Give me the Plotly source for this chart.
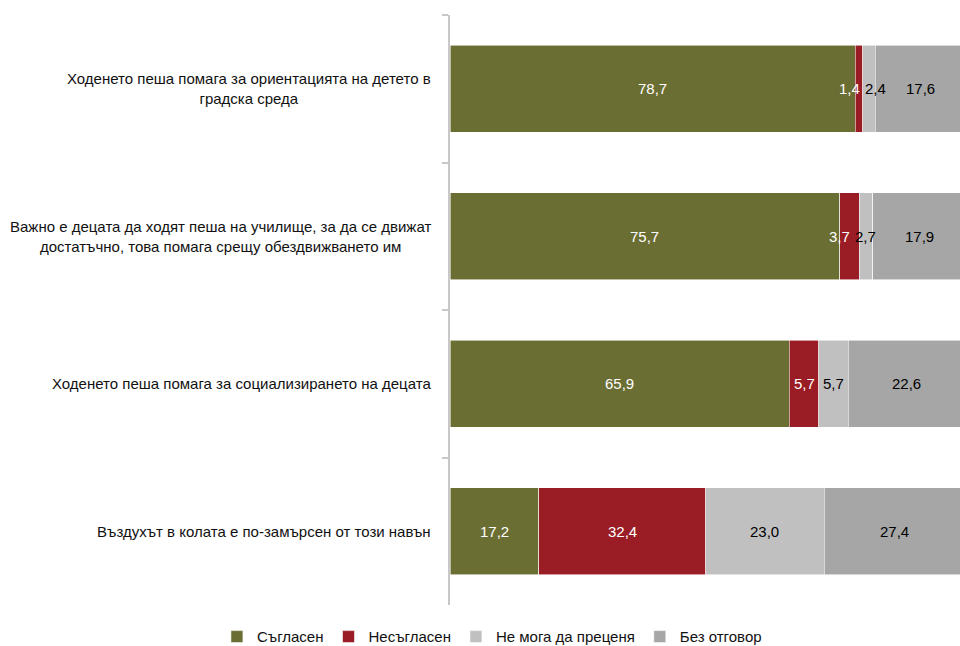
import plotly.graph_objects as go

# data, top row first
categories = [
    'Ходенето пеша помага за ориентацията на детето в<br>градска среда',
    'Важно е децата да ходят пеша на училище, за да се движат<br>достатъчно, това помага срещу обездвижването им',
    'Ходенето пеша помага за социализирането на децата',
    'Въздухът в колата е по-замърсен от този навън',
]
series_names = ['Съгласен', 'Несъгласен', 'Не мога да преценя', 'Без отговор']
agree = [78.7, 75.7, 65.9, 17.2]
disagree = [1.4, 3.7, 5.7, 32.4]
cannot_say = [2.4, 2.7, 5.7, 23.0]
no_answer = [17.6, 17.9, 22.6, 27.4]

colors = ['#6B6E33', '#9A1D26', '#C0C0C0', '#A6A6A6']
label_colors = ['white', 'white', 'black', 'black']
# pixel nudges for labels that overlap on thin segments
label_shift = {(0, 1): -10, (0, 2): 7, (1, 1): -10}

FONT = 'Liberation Sans, Arial, sans-serif'

fig = go.Figure()
values = [agree, disagree, cannot_say, no_answer]
for name, vals, color in zip(series_names, values, colors):
    fig.add_trace(go.Bar(
        y=categories, x=vals, name=name, orientation='h',
        marker=dict(color=color, line=dict(color='rgba(255,255,255,0.7)', width=0.8)),
        width=0.59,
    ))

annotations = []
for row, cat in enumerate(categories):
    left = 0
    for s, vals in enumerate(values):
        v = vals[row]
        annotations.append(dict(
            x=left + v / 2, y=cat, xref='x', yref='y',
            text=f'{v:.1f}'.replace('.', ','), showarrow=False,
            xshift=label_shift.get((row, s), 0),
            font=dict(family=FONT, size=15, color=label_colors[s]),
        ))
        left += v
    annotations.append(dict(
        x=0, y=cat, xref='paper', yref='y', xanchor='right', align='center',
        xshift=-17, text=cat, showarrow=False,
        font=dict(family=FONT, size=15, color='#111111'),
    ))

fig.update_layout(
    barmode='stack',
    width=960, height=646,
    margin=dict(l=450, r=0, t=15, b=41, autoexpand=False),
    plot_bgcolor='white', paper_bgcolor='white',
    font=dict(family=FONT, size=15, color='#111111'),
    annotations=annotations,
    showlegend=True,
    legend=dict(orientation='h', x=-0.457, y=-0.054, xanchor='left', yanchor='middle',
                font=dict(size=15), itemwidth=30, traceorder='normal'),
    xaxis=dict(range=[0, 99], showticklabels=False, showgrid=False, zeroline=False,
               showline=False, fixedrange=True),
    yaxis=dict(autorange='reversed', showticklabels=False, showgrid=False,
               showline=True, linecolor='#C8C8C8', linewidth=1.5,
               ticks='outside', tickson='boundaries', ticklen=6, tickcolor='#C8C8C8',
               tickwidth=1.5, fixedrange=True),
)

# drop the default page margin so the figure sits at the window's corner
fig.write_html('out.html', config={'displayModeBar': False},
               post_script="document.body.style.margin = '0';")
